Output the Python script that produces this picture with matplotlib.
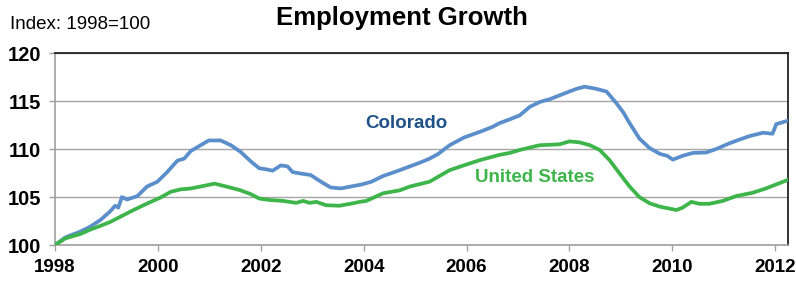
import numpy as np
import matplotlib
matplotlib.use("Agg")
import matplotlib.pyplot as plt

plt.rcParams['font.family'] = ['Liberation Sans', 'DejaVu Sans']

# decimal years and index values
co_years = [1998.00, 1998.20, 1998.49, 1998.68, 1998.88, 1999.07, 1999.17, 1999.23,
            1999.30, 1999.40, 1999.60, 1999.79, 1999.99, 2000.18, 2000.38, 2000.51,
            2000.64, 2000.83, 2000.99, 2001.22, 2001.42, 2001.61, 2001.81, 2001.97,
            2002.10, 2002.23, 2002.39, 2002.52, 2002.62, 2002.78, 2002.97, 2003.17,
            2003.36, 2003.56, 2003.75, 2003.95, 2004.15, 2004.38, 2004.65, 2004.90,
            2005.10, 2005.28, 2005.45, 2005.67, 2005.95, 2006.26, 2006.50, 2006.64,
            2006.84, 2007.03, 2007.23, 2007.42, 2007.62, 2007.81, 2008.00, 2008.15,
            2008.30, 2008.50, 2008.72, 2008.91, 2009.05, 2009.17, 2009.36, 2009.56,
            2009.76, 2009.90, 2010.01, 2010.20, 2010.40, 2010.66, 2010.85, 2011.11,
            2011.31, 2011.50, 2011.76, 2011.95, 2012.02, 2012.21, 2012.25]
colorado = [100.0, 100.8, 101.4, 101.9, 102.6, 103.5, 104.1, 103.9,
            105.0, 104.75, 105.1, 106.1, 106.6, 107.6, 108.8, 109.0,
            109.8, 110.4, 110.9, 110.9, 110.4, 109.7, 108.7, 108.0,
            107.9, 107.75, 108.3, 108.2, 107.6, 107.45, 107.3, 106.6,
            106.0, 105.9, 106.1, 106.3, 106.6, 107.2, 107.7, 108.2,
            108.6, 109.0, 109.5, 110.4, 111.2, 111.8, 112.3, 112.7,
            113.1, 113.5, 114.4, 114.9, 115.2, 115.6, 116.0, 116.3,
            116.5, 116.3, 116.0, 114.8, 113.8, 112.7, 111.1, 110.1,
            109.5, 109.3, 108.9, 109.3, 109.6, 109.65, 110.0, 110.6,
            111.0, 111.35, 111.7, 111.6, 112.6, 112.9, 112.95]

us_years = [1998.00, 1998.20, 1998.49, 1998.68, 1998.88, 1999.07, 1999.27, 1999.47,
            1999.66, 1999.86, 2000.05, 2000.25, 2000.44, 2000.64, 2000.83, 2001.10,
            2001.33, 2001.61, 2001.81, 2001.97, 2002.17, 2002.43, 2002.69, 2002.82,
            2002.95, 2003.08, 2003.27, 2003.53, 2003.79, 2003.92, 2004.05, 2004.38,
            2004.70, 2004.90, 2005.28, 2005.67, 2006.00, 2006.26, 2006.64, 2006.84,
            2007.03, 2007.42, 2007.81, 2008.00, 2008.20, 2008.40, 2008.59, 2008.78,
            2008.97, 2009.17, 2009.36, 2009.56, 2009.76, 2010.08, 2010.20, 2010.37,
            2010.53, 2010.72, 2010.98, 2011.24, 2011.56, 2011.82, 2012.25]
united_states = [100.0, 100.7, 101.15, 101.6, 102.0, 102.4, 102.95, 103.5,
                 104.0, 104.5, 104.95, 105.55, 105.8, 105.9, 106.1, 106.4,
                 106.1, 105.7, 105.3, 104.85, 104.7, 104.6, 104.4, 104.6,
                 104.4, 104.5, 104.15, 104.1, 104.35, 104.5, 104.6, 105.4,
                 105.7, 106.1, 106.6, 107.8, 108.4, 108.85, 109.4, 109.6,
                 109.9, 110.4, 110.5, 110.8, 110.7, 110.4, 109.9, 108.85,
                 107.5, 106.1, 105.0, 104.35, 104.0, 103.65, 103.9, 104.5,
                 104.3, 104.3, 104.6, 105.1, 105.45, 105.9, 106.8]

x_ticks = [1998, 2000, 2002, 2004, 2006, 2008, 2010, 2012]
y_ticks = [100, 105, 110, 115, 120]

BLUE = '#5B8FCC'
GREEN = '#3DB54A'

fig = plt.figure(figsize=(7.96, 2.83), dpi=100)
ax = fig.add_axes([0.0691, 0.134, 0.9209, 0.6784])

ax.plot(co_years, colorado, color=BLUE, lw=2.7, solid_joinstyle='round', zorder=3)
ax.plot(us_years, united_states, color=GREEN, lw=2.7, solid_joinstyle='round', zorder=3)

ax.set_xlim(1998, 2012.25)
ax.set_ylim(100, 120)
ax.set_xticks(x_ticks)
ax.set_yticks(y_ticks)
ax.set_xticklabels([str(t) for t in x_ticks], fontsize=13.5, fontweight='bold')
ax.set_yticklabels([str(t) for t in y_ticks], fontsize=14.5, fontweight='bold')
ax.tick_params(axis='both', direction='out', length=4, width=1, color='#A0A0A0')
ax.tick_params(axis='x', pad=6)
ax.tick_params(axis='y', pad=6)

ax.grid(axis='y', color='#A6A6A6', lw=1)
ax.set_axisbelow(True)
for side in ['left', 'bottom']:
    ax.spines[side].set_color('#A0A0A0')
    ax.spines[side].set_linewidth(1.2)
for side in ['top', 'right']:
    ax.spines[side].set_color('#222222')
    ax.spines[side].set_linewidth(1.3)

ax.text(2004.84, 112.7, 'Colorado', color='#1F5288', fontsize=13.5,
        fontweight='bold', ha='center', va='center')
ax.text(2007.32, 107.0, 'United States', color=GREEN, fontsize=13.5,
        fontweight='bold', ha='center', va='center')

fig.text(0.505, 0.935, 'Employment Growth', fontsize=18.5, fontweight='bold',
         ha='center', va='center')
fig.text(0.0126, 0.912, 'Index: 1998=100', fontsize=13.5, ha='left', va='center')

fig.savefig('out.png', dpi=100)
